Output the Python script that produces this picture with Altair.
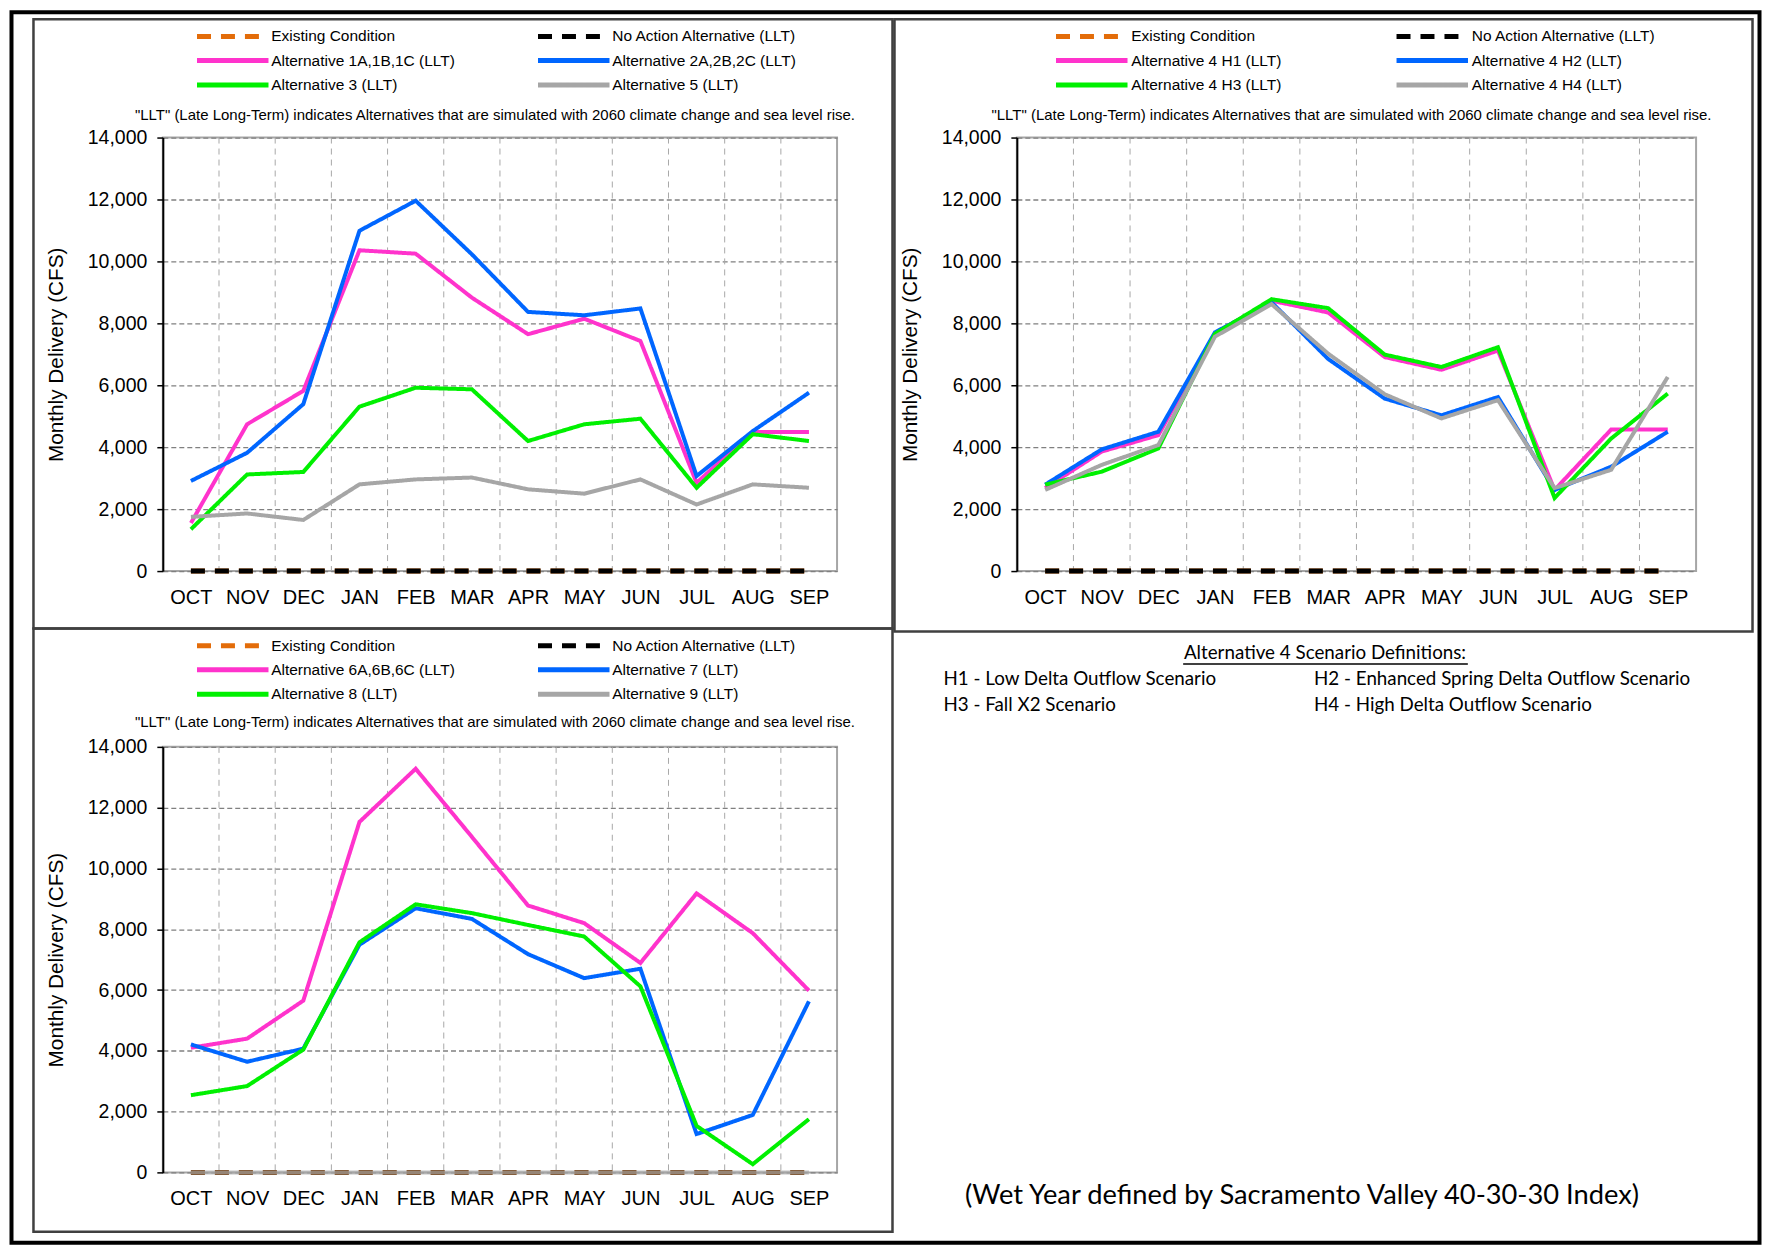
import altair as alt
import pandas as pd

months = ["OCT", "NOV", "DEC", "JAN", "FEB", "MAR", "APR", "MAY", "JUN", "JUL", "AUG", "SEP"]
note = "\"LLT\" (Late Long-Term) indicates Alternatives that are simulated with 2060 climate change and sea level rise."
y_title = "Monthly Delivery (CFS)"

# ---- top-left panel
tl_series = ["Existing Condition", "No Action Alternative (LLT)", "Alternative 1A,1B,1C (LLT)",
             "Alternative 2A,2B,2C (LLT)", "Alternative 3 (LLT)", "Alternative 5 (LLT)"]
tl_existing = [0, 0, 0, 0, 0, 0, 0, 0, 0, 0, 0, 0]
tl_noaction = [0, 0, 0, 0, 0, 0, 0, 0, 0, 0, 0, 0]
tl_alt1 = [1550, 4740, 5820, 10360, 10250, 8830, 7650, 8150, 7430, 2850, 4490, 4490]
tl_alt2 = [2910, 3820, 5390, 10990, 11960, 10230, 8370, 8260, 8480, 3070, 4520, 5760]
tl_alt3 = [1350, 3120, 3200, 5310, 5920, 5870, 4200, 4740, 4920, 2690, 4420, 4200]
tl_alt5 = [1750, 1860, 1650, 2800, 2960, 3020, 2640, 2500, 2960, 2150, 2800, 2690]

# ---- top-right panel
tr_series = ["Existing Condition", "No Action Alternative (LLT)", "Alternative 4 H1 (LLT)",
             "Alternative 4 H2 (LLT)", "Alternative 4 H3 (LLT)", "Alternative 4 H4 (LLT)"]
tr_existing = [0, 0, 0, 0, 0, 0, 0, 0, 0, 0, 0, 0]
tr_noaction = [0, 0, 0, 0, 0, 0, 0, 0, 0, 0, 0, 0]
tr_h1 = [2680, 3860, 4390, 7680, 8730, 8350, 6910, 6500, 7120, 2620, 4570, 4570]
tr_h2 = [2790, 3930, 4500, 7710, 8680, 6850, 5570, 5030, 5620, 2620, 3370, 4500]
tr_h3 = [2790, 3210, 3960, 7660, 8780, 8490, 6990, 6590, 7230, 2360, 4280, 5730]
tr_h4 = [2620, 3430, 4070, 7570, 8620, 7020, 5710, 4930, 5520, 2680, 3270, 6270]

# ---- bottom-left panel
bl_series = ["Existing Condition", "No Action Alternative (LLT)", "Alternative 6A,6B,6C (LLT)",
             "Alternative 7 (LLT)", "Alternative 8 (LLT)", "Alternative 9 (LLT)"]
bl_existing = [0, 0, 0, 0, 0, 0, 0, 0, 0, 0, 0, 0]
bl_noaction = [0, 0, 0, 0, 0, 0, 0, 0, 0, 0, 0, 0]
bl_alt6 = [4100, 4400, 5650, 11530, 13280, 11040, 8780, 8200, 6890, 9180, 7870, 5980]
bl_alt7 = [4210, 3640, 4070, 7490, 8690, 8340, 7180, 6390, 6700, 1260, 1890, 5630]
bl_alt8 = [2540, 2840, 4040, 7570, 8820, 8530, 8140, 7760, 6120, 1530, 270, 1750]
bl_alt9 = [0, 0, 0, 0, 0, 0, 0, 0, 0, 0, 0, 0]

# ---- text panel
defs_heading = "Alternative 4 Scenario Definitions:"
defs_left = ["H1 - Low Delta Outflow Scenario", "H3 - Fall X2 Scenario"]
defs_right = ["H2 - Enhanced Spring Delta Outflow Scenario", "H4 - High Delta Outflow Scenario"]
footer = "(Wet Year defined by Sacramento Valley 40-30-30 Index)"

y_ticks = [0, 2000, 4000, 6000, 8000, 10000, 12000, 14000]
month_bounds = [i + 0.5 for i in range(len(months) - 1)]

COLORS = ["#e36c09", "#000000", "#ff33cc", "#0066ff", "#00f000", "#a6a6a6"]
DASHES = [[14, 10], [14, 10], [1, 0], [1, 0], [1, 0], [1, 0]]
WIDTHS = [5, 5, 4, 4, 4, 4]
FONT = "Liberation Sans"
FRAME = "#404040"

label_expr = "[" + ",".join("'%s'" % m for m in months) + "][datum.value]"


def frame(x1, x2, y1, y2, color=FRAME, width=2.5):
    return alt.Chart(pd.DataFrame({"f": [0]})).mark_rect(
        fillOpacity=0, stroke=color, strokeWidth=width
    ).encode(x=alt.value(x1), x2=alt.value(x2), y=alt.value(y1), y2=alt.value(y2))


def txt(s, x, y, size, align="left", font="Lato"):
    return alt.Chart(pd.DataFrame({"t": [s]})).mark_text(
        align=align, baseline="middle", font=font, fontSize=size, color="black"
    ).encode(text="t:N", x=alt.value(x), y=alt.value(y))


def panel(key, series, values, width, height, legend_x, label_off, col_pad, opac, box, note_y, extra=None):
    rows = []
    for k, (s, vals) in enumerate(zip(series, values)):
        for i, v in enumerate(vals):
            rows.append({key: s, "m": i, "v": v, "op": opac[k], "w": WIDTHS[k]})
    df = pd.DataFrame(rows)
    leg = alt.Legend(title=None, orient="none", legendX=legend_x, legendY=-109.5, columns=2,
                     direction="horizontal",
                     symbolType="stroke", symbolSize=5124, symbolStrokeWidth=5,
                     labelFontSize=15.5, labelFont=FONT, labelColor="black", labelOffset=label_off,
                     clipHeight=16, rowPadding=7.4, columnPadding=col_pad, padding=0,
                     labelLimit=500)
    xs = alt.Scale(domain=[-0.5, 11.5], nice=False, zero=False)
    xaxis = alt.Axis(values=list(range(12)), labelExpr=label_expr, grid=False, ticks=False,
                     domain=False, title=None, labelFont=FONT, labelFontSize=20,
                     labelColor="black", labelPadding=16)
    f = key + ":N"
    lines = alt.Chart(df).mark_line().encode(
        x=alt.X("m:Q", scale=xs, axis=xaxis),
        y=alt.Y("v:Q", scale=alt.Scale(domain=[0, 14000], nice=False),
                axis=alt.Axis(values=y_ticks, format=",d", grid=True, gridDash=[5, 3],
                              gridColor="#808080", gridWidth=1.3, domainColor="black", domainWidth=2,
                              tickColor="black", tickSize=6, tickWidth=1.5, labelFont=FONT,
                              labelFontSize=19.5, labelColor="black", labelPadding=10,
                              title=y_title, titleFont=FONT, titleFontSize=20.8,
                              titleFontWeight="normal", titleColor="black", titlePadding=21)),
        color=alt.Color(f, scale=alt.Scale(domain=series, range=COLORS), legend=leg),
        strokeDash=alt.StrokeDash(f, scale=alt.Scale(domain=series, range=DASHES), legend=leg),
        strokeWidth=alt.StrokeWidth("w:Q", scale=None, legend=None),
        opacity=alt.Opacity("op:Q", scale=None, legend=None),
    )
    vgrid = alt.Chart(pd.DataFrame({"m": month_bounds})).mark_rule(
        color="#a8a8a8", strokeWidth=1, strokeDash=[6, 5]
    ).encode(x=alt.X("m:Q", scale=xs, axis=xaxis))
    layers = [vgrid, lines, frame(*box), txt(note, width / 2 - 5, note_y, 15, "center", FONT)]
    if extra is not None:
        layers += extra
    return alt.layer(*layers).properties(width=width, height=height)


tl = panel("s1", tl_series, [tl_existing, tl_noaction, tl_alt1, tl_alt2, tl_alt3, tl_alt5],
           675, 434, 31.5, 0, 79.4, [1, 1, 1, 1, 1, 1], (-129.5, 730.5, -118.5, 491.5), -22.5,
           extra=[frame(-151.5, 1598.5, -125.5, 1106.5, color="black", width=4)])
tr = panel("s2", tr_series, [tr_existing, tr_noaction, tr_h1, tr_h2, tr_h3, tr_h4],
           680, 434, 36.5, 1, 111.9, [1, 1, 1, 1, 1, 1], (-122.5, 736.5, -118.5, 494.5), -22.5)
bl = panel("s3", bl_series, [bl_existing, bl_noaction, bl_alt6, bl_alt7, bl_alt8, bl_alt9],
           675, 426, 31.5, 0, 79.4, [1, 0.5, 1, 1, 1, 0.7], (-129.5, 730.5, -118.5, 485.5), -25)

underline = alt.Chart(pd.DataFrame({"u": [0]})).mark_rule(color="black", strokeWidth=1.5).encode(
    x=alt.value(166.5), x2=alt.value(451.5), y=alt.value(-83))
br = alt.layer(
    txt(defs_heading, 308.5, -93.5, 18.8, "center"),
    underline,
    txt(defs_left[0], -73.5, -67.5, 18.8),
    txt(defs_left[1], -73.5, -41.5, 18.8),
    txt(defs_right[0], 297.5, -67.5, 18.8),
    txt(defs_right[1], 297.5, -41.5, 18.8),
    txt(footer, 285.5, 449.5, 27.3, "center"),
).properties(width=680, height=426, view=alt.ViewBackground(stroke="transparent"))

chart = alt.concat(tl, tr, bl, br, columns=2, spacing={"row": 176, "column": 180}, bounds="flush").resolve_scale(
    color="independent", strokeDash="independent"
).resolve_legend(color="independent", strokeDash="independent").properties(
    padding={"left": 0, "top": 0, "right": 0, "bottom": 0},
    background="white",
).configure_view(stroke="#a6a6a6", strokeWidth=2)

chart.save("out.html", embed_options={"renderer": "svg", "actions": False})
